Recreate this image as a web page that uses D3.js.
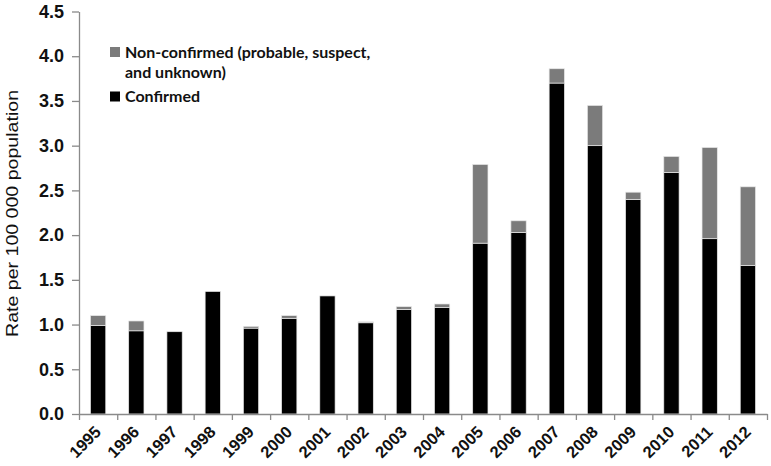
<!DOCTYPE html>
<html>
<head>
<meta charset="utf-8">
<script src="https://cdn.jsdelivr.net/npm/d3@7"></script>
<style>
  body { margin: 0; background: #fff; }
  svg { display: block; }
</style>
</head>
<body>
<div id="chart"></div>
<script>
// values (rate per 100 000 population)
const years = ['1995', '1996', '1997', '1998', '1999', '2000', '2001', '2002', '2003',
    '2004', '2005', '2006', '2007', '2008', '2009', '2010', '2011', '2012'];
const confirmed = [0.99, 0.93, 0.92, 1.37, 0.96, 1.07, 1.32, 1.02, 1.17,
    1.19, 1.91, 2.03, 3.70, 3.00, 2.40, 2.70, 1.96, 1.66];
const nonConfirmed = [0.11, 0.11, 0.00, 0.00, 0.02, 0.03, 0.00, 0.01, 0.03,
    0.04, 0.88, 0.13, 0.16, 0.45, 0.08, 0.18, 1.02, 0.88];
const yTicks = [0, 0.5, 1, 1.5, 2, 2.5, 3, 3.5, 4, 4.5];
const legendLabels = [['Non-confirmed (probable, suspect,', 'and unknown)'], ['Confirmed']];

const width = 771;
const height = 466;
const usableArea = { left: 79, right: 767, top: 11.5, bottom: 414 };

const colors = { nonConfirmed: '#7b7b7b', confirmed: '#000000' };

const rows = years.map((year, i) => ({
    year,
    confirmed: confirmed[i],
    nonConfirmed: nonConfirmed[i],
}));

const series = d3.stack().keys(['confirmed', 'nonConfirmed'])(rows);

const xScale = d3.scaleBand()
    .domain(years)
    .range([usableArea.left, usableArea.right])
    .paddingInner(0.6)
    .paddingOuter(0.3);

// boundary ticks sit between categories
const edgeScale = d3.scaleLinear()
    .domain([0, years.length])
    .range([usableArea.left, usableArea.right]);

const yScale = d3.scaleLinear()
    .domain([0, 4.5])
    .range([usableArea.bottom, usableArea.top]);

const svg = d3.select('#chart')
    .append('svg')
    .attr('width', width)
    .attr('height', height)
    .attr('viewBox', `0 0 ${width} ${height}`);

// bars
svg.append('g')
    .attr('class', 'bars')
    .selectAll('g')
    .data(series)
    .join('g')
    .attr('fill', (d) => colors[d.key])
    .selectAll('rect')
    .data((d) => d)
    .join('rect')
    .attr('x', (d) => xScale(d.data.year))
    .attr('y', (d) => yScale(d[1]))
    .attr('width', xScale.bandwidth())
    .attr('height', (d) => Math.max(0, yScale(d[0]) - yScale(d[1])))
    .attr('stroke', '#e8e8e8')
    .attr('stroke-width', 0.7);

// Y axis
const yAxis = svg.append('g')
    .attr('transform', `translate(${usableArea.left}, 0)`)
    .call(d3.axisLeft(yScale)
        .tickValues(yTicks)
        .tickFormat(d3.format('.1f'))
        .tickSize(7)
        .tickSizeOuter(0)
        .tickPadding(8));

yAxis.selectAll('text')
    .attr('font-family', 'Liberation Sans, Arial, sans-serif')
    .attr('font-weight', 'bold')
    .attr('font-size', 18)
    .attr('fill', '#111');

// X axis (ticks only)
const xAxis = svg.append('g')
    .attr('transform', `translate(0, ${usableArea.bottom})`)
    .call(d3.axisBottom(edgeScale)
        .tickValues(d3.range(years.length + 1))
        .tickFormat('')
        .tickSize(6)
        .tickSizeOuter(0));

svg.selectAll('.domain, .tick line')
    .attr('stroke', '#8a8a8a')
    .attr('stroke-width', 1.3);

// rotated year labels
svg.append('g')
    .selectAll('text')
    .data(years)
    .join('text')
    .attr('transform', (d) => `translate(${xScale(d) + xScale.bandwidth() / 2 + 4}, ${usableArea.bottom + 19}) rotate(-45)`)
    .attr('text-anchor', 'end')
    .attr('font-family', 'Liberation Sans, Arial, sans-serif')
    .attr('font-weight', 'bold')
    .attr('font-size', 16.5)
    .attr('fill', '#111')
    .text((d) => d);

// Y title
svg.append('text')
    .attr('transform', `translate(18, ${(90 + 337) / 2}) rotate(-90)`)
    .attr('text-anchor', 'middle')
    .attr('font-family', 'Liberation Sans, Arial, sans-serif')
    .attr('font-size', 17)
    .attr('textLength', 247)
    .attr('lengthAdjust', 'spacingAndGlyphs')
    .attr('fill', '#111')
    .text('Rate per 100 000 population');

// legend
const legend = svg.append('g').attr('class', 'legend');
const legendKeys = ['nonConfirmed', 'confirmed'];
const legendTops = [47, 91.5];

legendKeys.forEach((key, i) => {
    legend.append('rect')
        .attr('x', 110)
        .attr('y', legendTops[i])
        .attr('width', 10)
        .attr('height', 10)
        .attr('fill', colors[key]);

    legendLabels[i].forEach((line, j) => {
        legend.append('text')
            .attr('x', 125)
            .attr('y', legendTops[i] + 10.5 + j * 20)
            .attr('font-family', 'Lato, sans-serif')
            .attr('font-weight', 'bold')
            .attr('font-size', 16)
            .attr('fill', '#111')
            .text(line);
    });
});
</script>
</body>
</html>
